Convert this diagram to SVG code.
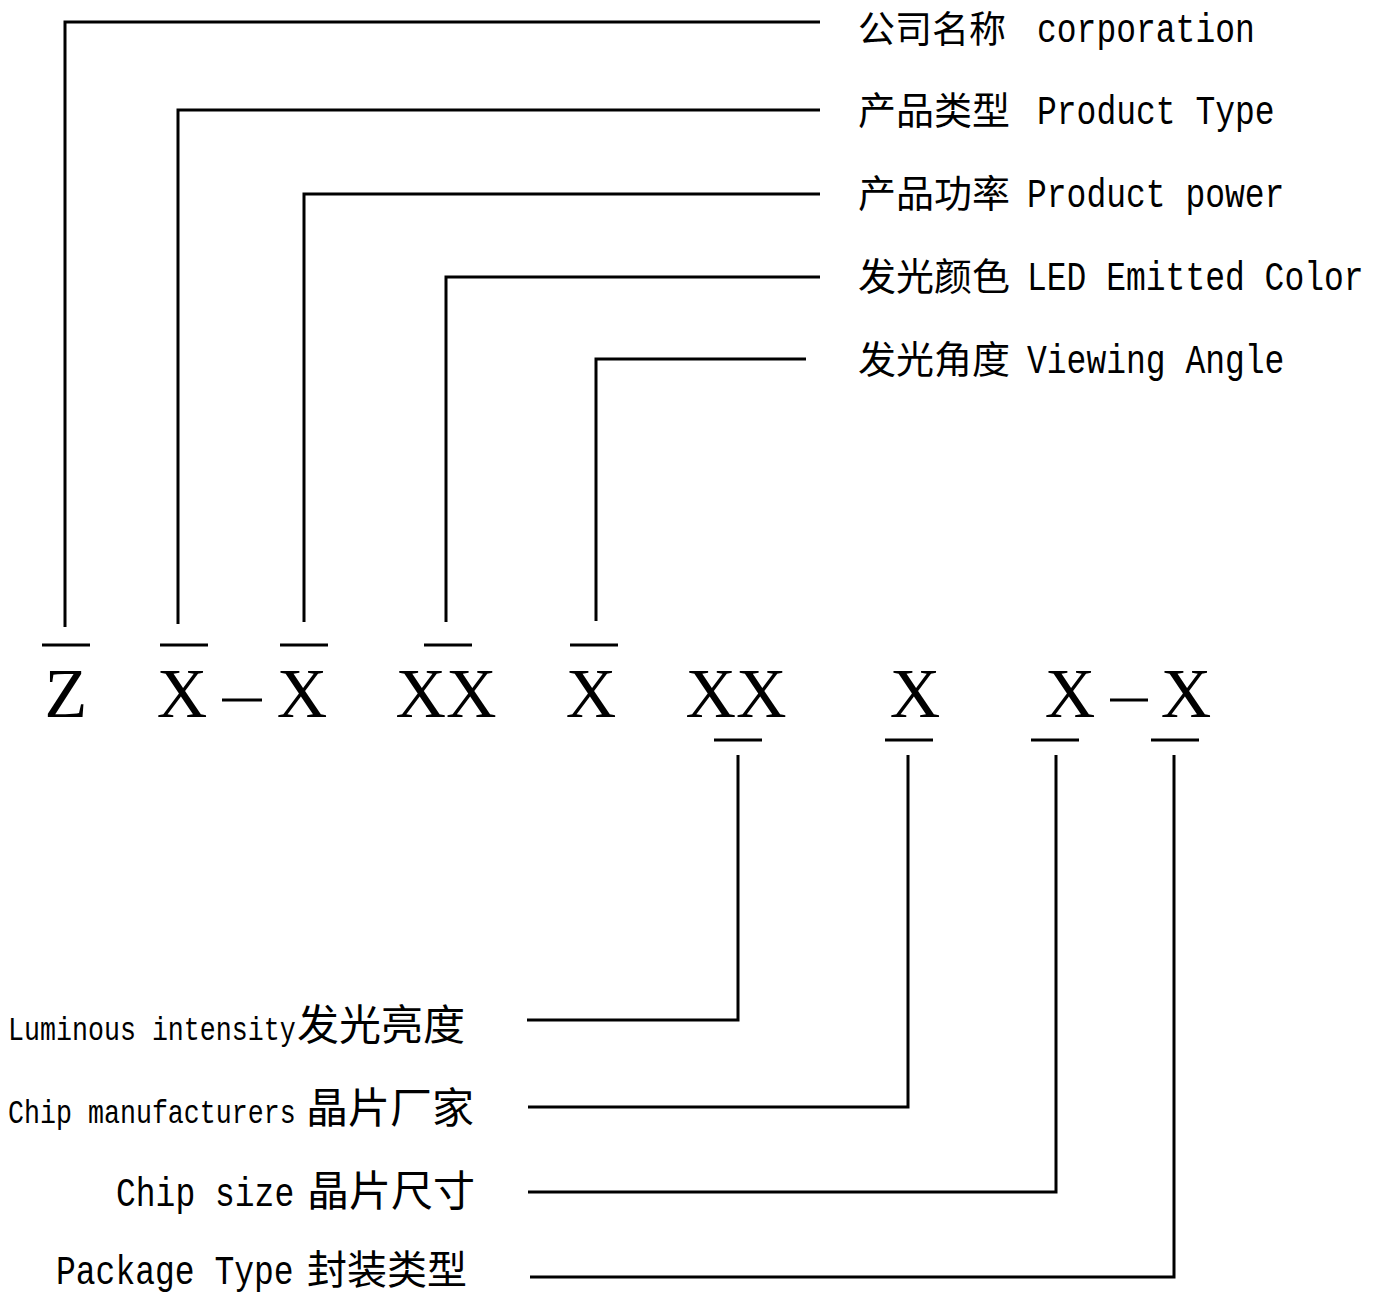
<svg xmlns="http://www.w3.org/2000/svg" width="1381" height="1297" viewBox="0 0 1381 1297">
<style>
.ln{stroke:#000;stroke-width:3;fill:none;stroke-linecap:butt}
.cjk{font-family:"Noto Sans CJK SC","Noto Sans CJK TC",sans-serif;fill:#000;font-size:38px}
.cjkb{font-family:"Noto Sans CJK SC","Noto Sans CJK TC",sans-serif;fill:#000;font-size:42px}
.lat{font-family:"Liberation Mono","DejaVu Sans Mono",monospace;fill:#000;font-size:41px}
.lats{font-family:"Liberation Mono","DejaVu Sans Mono",monospace;fill:#000;font-size:34px}
.big{font-family:"Liberation Serif","Times New Roman",serif;fill:#000;font-size:70px;text-anchor:middle}
</style>
<rect width="1381" height="1297" fill="#fff"/>
<g id="connectors" class="ln">
<polyline points="65,627 65,22 820,22"/>
<polyline points="178,624 178,110 820,110"/>
<polyline points="304,622 304,194 820,194"/>
<polyline points="446,622 446,277 820,277"/>
<polyline points="596,621 596,359 806,359"/>
<polyline points="738,755 738,1020 527,1020"/>
<polyline points="908,755 908,1107 528,1107"/>
<polyline points="1056,755 1056,1192 528,1192"/>
<polyline points="1174,755 1174,1277 530,1277"/>
</g>
<g id="code" class="ln">
<line x1="42" y1="645" x2="90" y2="645"/>
<line x1="160" y1="645" x2="208" y2="645"/>
<line x1="280" y1="645" x2="328" y2="645"/>
<line x1="424" y1="645" x2="472" y2="645"/>
<line x1="570" y1="645" x2="618" y2="645"/>
<line x1="714" y1="740" x2="762" y2="740"/>
<line x1="885" y1="740" x2="933" y2="740"/>
<line x1="1031" y1="740" x2="1079" y2="740"/>
<line x1="1151" y1="740" x2="1199" y2="740"/>
<line x1="222" y1="700" x2="262" y2="700"/>
<line x1="1110" y1="700" x2="1148" y2="700"/>
</g>
<g id="letters">
<text class="big" x="66" y="717">Z</text>
<text class="big" x="182" y="717">X</text>
<text class="big" x="302" y="717">X</text>
<text class="big" x="446" y="717">XX</text>
<text class="big" x="591" y="717">X</text>
<text class="big" x="736" y="717">XX</text>
<text class="big" x="915" y="717">X</text>
<text class="big" x="1070" y="717">X</text>
<text class="big" x="1186" y="717">X</text>
</g>
<g id="label-corporation">
<text class="cjk" x="858" y="43" style="font-size:37px">公司名称</text>
<text class="lat" transform="matrix(0.805,0,0,1,1037,42)">corporation</text>
</g>
<g id="label-product-type">
<text class="cjk" x="858" y="124">产品类型</text>
<text class="lat" transform="matrix(0.805,0,0,1,1037,124)">Product Type</text>
</g>
<g id="label-product-power">
<text class="cjk" x="858" y="207">产品功率</text>
<text class="lat" transform="matrix(0.805,0,0,1,1027,207)">Product power</text>
</g>
<g id="label-color">
<text class="cjk" x="858" y="290">发光颜色</text>
<text class="lat" transform="matrix(0.805,0,0,1,1027,290)">LED Emitted Color</text>
</g>
<g id="label-angle">
<text class="cjk" x="858" y="373">发光角度</text>
<text class="lat" transform="matrix(0.805,0,0,1,1027,373)">Viewing Angle</text>
</g>
<g id="label-luminous">
<text class="lats" transform="matrix(0.784,0,0,1,8,1040)">Luminous intensity</text>
<text class="cjkb" x="297" y="1040">发光亮度</text>
</g>
<g id="label-chip-manufacturers">
<text class="lats" transform="matrix(0.784,0,0,1,8,1123)">Chip manufacturers</text>
<text class="cjkb" x="306" y="1123">晶片厂家</text>
</g>
<g id="label-chip-size">
<text class="lat" transform="matrix(0.805,0,0,1,116,1206)">Chip size</text>
<text class="cjkb" x="307" y="1206">晶片尺寸</text>
</g>
<g id="label-package">
<text class="lat" transform="matrix(0.825,0,0,1,56,1284)" style="font-size:40px">Package Type</text>
<text class="cjkb" x="307" y="1284" style="font-size:40px">封装类型</text>
</g>
</svg>
